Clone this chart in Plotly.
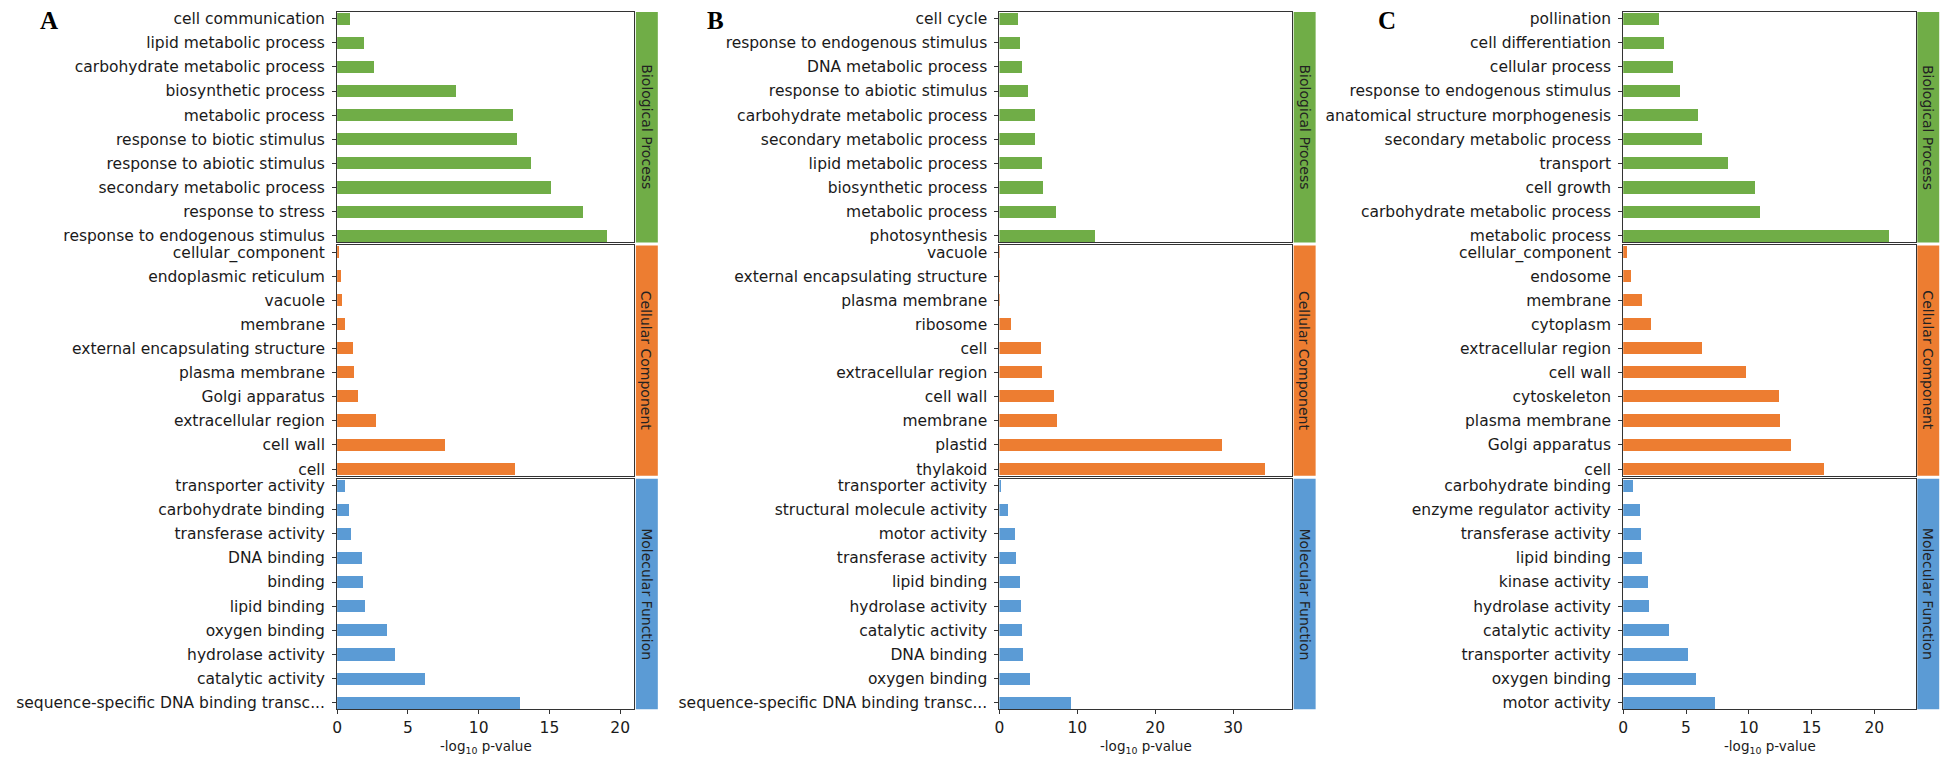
import plotly.graph_objects as go

# ---------------- data ----------------
A_BP_terms = ["cell communication", "lipid metabolic process", "carbohydrate metabolic process",
              "biosynthetic process", "metabolic process", "response to biotic stimulus",
              "response to abiotic stimulus", "secondary metabolic process", "response to stress",
              "response to endogenous stimulus"]
A_BP_vals = [0.92, 1.88, 2.6, 8.4, 12.4, 12.7, 13.7, 15.15, 17.35, 19.1]

A_CC_terms = ["cellular_component", "endoplasmic reticulum", "vacuole", "membrane",
              "external encapsulating structure", "plasma membrane", "Golgi apparatus",
              "extracellular region", "cell wall", "cell"]
A_CC_vals = [0.1, 0.3, 0.33, 0.6, 1.15, 1.2, 1.45, 2.75, 7.65, 12.6]

A_MF_terms = ["transporter activity", "carbohydrate binding", "transferase activity", "DNA binding",
              "binding", "lipid binding", "oxygen binding", "hydrolase activity", "catalytic activity",
              "sequence-specific DNA binding transc..."]
A_MF_vals = [0.55, 0.85, 1.0, 1.8, 1.85, 2.0, 3.55, 4.1, 6.2, 12.9]

B_BP_terms = ["cell cycle", "response to endogenous stimulus", "DNA metabolic process",
              "response to abiotic stimulus", "carbohydrate metabolic process",
              "secondary metabolic process", "lipid metabolic process", "biosynthetic process",
              "metabolic process", "photosynthesis"]
B_BP_vals = [2.4, 2.7, 3.0, 3.7, 4.6, 4.6, 5.5, 5.6, 7.3, 12.3]

B_CC_terms = ["vacuole", "external encapsulating structure", "plasma membrane", "ribosome", "cell",
              "extracellular region", "cell wall", "membrane", "plastid", "thylakoid"]
B_CC_vals = [0.05, 0.05, 0.1, 1.5, 5.4, 5.5, 7.0, 7.5, 28.7, 34.2]

B_MF_terms = ["transporter activity", "structural molecule activity", "motor activity",
              "transferase activity", "lipid binding", "hydrolase activity", "catalytic activity",
              "DNA binding", "oxygen binding", "sequence-specific DNA binding transc..."]
B_MF_vals = [0.3, 1.1, 2.05, 2.2, 2.7, 2.85, 3.0, 3.05, 3.95, 9.2]

C_BP_terms = ["pollination", "cell differentiation", "cellular process",
              "response to endogenous stimulus", "anatomical structure morphogenesis",
              "secondary metabolic process", "transport", "cell growth",
              "carbohydrate metabolic process", "metabolic process"]
C_BP_vals = [2.9, 3.3, 4.0, 4.5, 6.0, 6.3, 8.4, 10.5, 10.9, 21.2]

C_CC_terms = ["cellular_component", "endosome", "membrane", "cytoplasm", "extracellular region",
              "cell wall", "cytoskeleton", "plasma membrane", "Golgi apparatus", "cell"]
C_CC_vals = [0.35, 0.65, 1.5, 2.2, 6.3, 9.8, 12.4, 12.5, 13.4, 16.0]

C_MF_terms = ["carbohydrate binding", "enzyme regulator activity", "transferase activity",
              "lipid binding", "kinase activity", "hydrolase activity", "catalytic activity",
              "transporter activity", "oxygen binding", "motor activity"]
C_MF_vals = [0.8, 1.35, 1.45, 1.5, 2.0, 2.1, 3.65, 5.15, 5.8, 7.3]

panel_letters = ["A", "B", "C"]
ontologies = ["Biological Process", "Cellular Component", "Molecular Function"]
x_title = "-log<sub>10</sub> p-value"

panels = [
    [(A_BP_terms, A_BP_vals), (A_CC_terms, A_CC_vals), (A_MF_terms, A_MF_vals)],
    [(B_BP_terms, B_BP_vals), (B_CC_terms, B_CC_vals), (B_MF_terms, B_MF_vals)],
    [(C_BP_terms, C_BP_vals), (C_CC_terms, C_CC_vals), (C_MF_terms, C_MF_vals)],
]

# ---------------- style / layout ----------------
W, H = 1949, 759
colors = ["#70AD47", "#ED7D31", "#5B9BD5"]
x_px = [(333.0, 631.0), (997.0, 1290.5), (1622.4, 1915.7)]
y_px = [(10, 242), (245, 477), (480, 712)]
x_max = [21.0, 37.6, 23.3]
x_dtick = [5, 10, 5]
letter_px = [44, 712, 1386]
FONT = "DejaVu Sans"
TXT = "#1a1a1a"
FS = 15.5

def px2x(p):
    return p / W

def px2y(p):
    return 1 - p / H

fig = go.Figure()
layout = dict(width=W, height=H, margin=dict(l=0, r=0, t=0, b=0),
              paper_bgcolor="white", plot_bgcolor="white", showlegend=False,
              font=dict(family=FONT, size=FS, color=TXT), bargap=0)
shapes, annotations = [], []

for p, panel in enumerate(panels):
    for r, (terms, vals) in enumerate(panel):
        n = p * 3 + r + 1
        sfx = "" if n == 1 else str(n)
        fig.add_trace(go.Bar(x=vals, y=terms, orientation="h", width=0.5,
                             marker=dict(color=colors[r], line=dict(width=0)),
                             xaxis="x" + sfx, yaxis="y" + sfx, hoverinfo="x+y"))
        bottom = (r == 2)
        layout["xaxis" + sfx] = dict(
            domain=[px2x(x_px[p][0]), px2x(x_px[p][1])], anchor="y" + sfx,
            range=[0, x_max[p]], dtick=x_dtick[p], tick0=0,
            showline=True, mirror=True, linecolor="#333", linewidth=1.2,
            ticks="outside" if bottom else "", ticklen=4, tickcolor="#333",
            showticklabels=bottom, showgrid=False, zeroline=False,
            tickfont=dict(size=FS, color=TXT))
        layout["yaxis" + sfx] = dict(
            domain=[px2y(y_px[r][1]), px2y(y_px[r][0])], anchor="x" + sfx,
            type="category", categoryorder="array", categoryarray=terms,
            range=[9.28, -0.28],
            showline=True, mirror=True, linecolor="#333", linewidth=1.2,
            ticks="outside", ticklen=4, tickcolor="#333", ticklabelstandoff=4,
            showgrid=False, zeroline=False, tickfont=dict(size=FS, color=TXT))
        # ontology strip
        sx0 = x_px[p][1] + 1.5
        sx1 = sx0 + 22
        shapes.append(dict(type="rect", xref="paper", yref="paper",
                           x0=px2x(sx0), x1=px2x(sx1),
                           y0=px2y(y_px[r][1]), y1=px2y(y_px[r][0]),
                           fillcolor=colors[r], line=dict(width=0), layer="below"))
        annotations.append(dict(xref="paper", yref="paper", x=px2x((sx0 + sx1) / 2),
                                y=px2y((y_px[r][0] + y_px[r][1]) / 2),
                                xanchor="center", yanchor="middle",
                                text=ontologies[r], textangle=90, showarrow=False,
                                font=dict(size=14, color="#222", family=FONT)))
    annotations.append(dict(xref="paper", yref="paper", x=px2x((x_px[p][0] + x_px[p][1]) / 2),
                            y=px2y(750), xanchor="center", yanchor="middle",
                            text=x_title, showarrow=False,
                            font=dict(size=13.5, color=TXT, family=FONT)))
    annotations.append(dict(xref="paper", yref="paper", x=px2x(letter_px[p]), y=px2y(19),
                            xanchor="center", yanchor="middle",
                            text="<b>%s</b>" % panel_letters[p], showarrow=False,
                            font=dict(size=25, color="black", family="Liberation Serif")))

layout["shapes"] = shapes
layout["annotations"] = annotations
fig.update_layout(**layout)
fig.write_html("out.html", config={"displayModeBar": False},
               post_script="document.body.style.margin='0';")
